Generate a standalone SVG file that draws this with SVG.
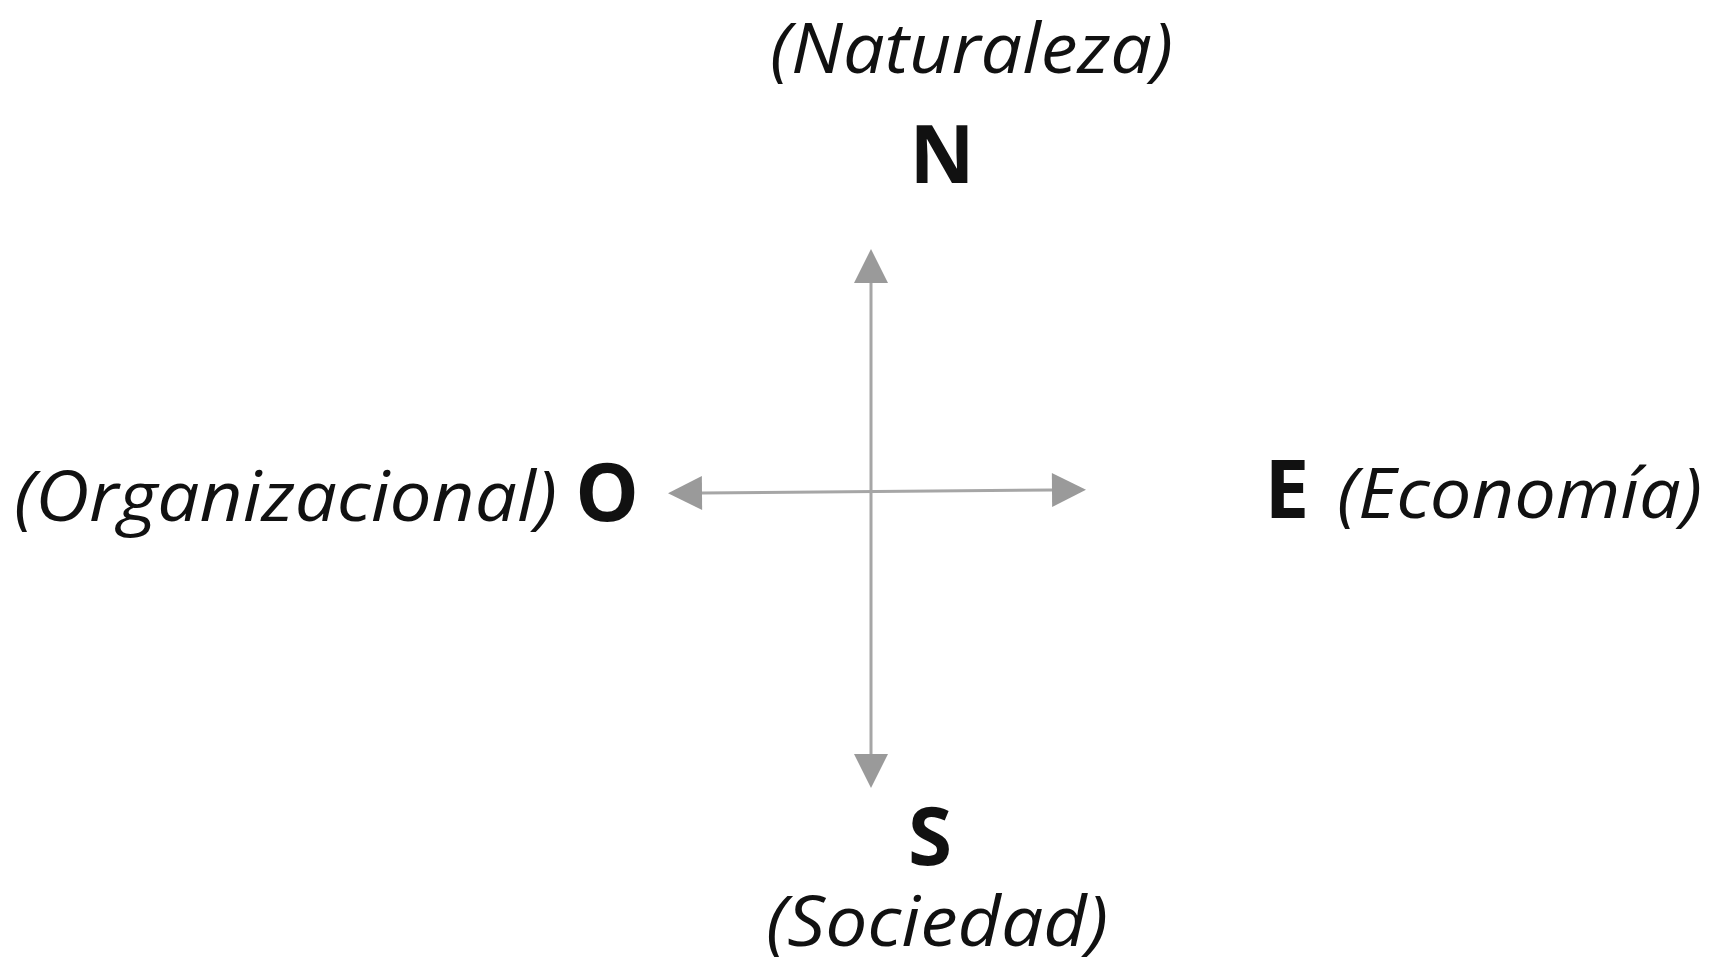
<svg xmlns="http://www.w3.org/2000/svg" width="1714" height="963" viewBox="0 0 1714 963">
<style>
.it{font-family:"Open Sans","Noto Sans","Liberation Sans",sans-serif;font-style:italic;font-size:70px;fill:#111}
.bd{font-family:"Open Sans","Noto Sans","Liberation Sans",sans-serif;font-weight:bold;font-size:80px;fill:#111;text-anchor:middle}
.ax{stroke:#a6a6a6;stroke-width:3;fill:none;marker-start:url(#ah);marker-end:url(#ah)}
</style>
<defs>
<marker id="ah" markerUnits="userSpaceOnUse" markerWidth="34" markerHeight="36" refX="0" refY="17" orient="auto-start-reverse" viewBox="0 0 34 34" overflow="visible">
<path d="M0,0 L34,17 L0,34 Z" fill="#9a9a9a"/>
</marker>
</defs>
<rect width="1714" height="963" fill="#fff"/>
<g id="connectors">
<line class="ax" x1="871" y1="754" x2="871" y2="283"/>
<line class="ax" x1="1052" y1="490" x2="702" y2="493"/>
</g>
<g id="node-N">
<text class="it" x="770" y="73" textLength="403" lengthAdjust="spacingAndGlyphs">(Naturaleza)</text>
<text class="bd" x="942" y="183">N</text>
</g>
<g id="node-S">
<text class="bd" x="930" y="865">S</text>
<text class="it" x="766" y="946" textLength="342" lengthAdjust="spacingAndGlyphs">(Sociedad)</text>
</g>
<g id="node-O">
<text class="it" x="14" y="521" textLength="543" lengthAdjust="spacingAndGlyphs">(Organizacional)</text>
<text class="bd" x="607" y="521">O</text>
</g>
<g id="node-E">
<text class="bd" x="1287" y="518">E</text>
<text class="it" x="1337" y="518" textLength="365" lengthAdjust="spacingAndGlyphs">(Economía)</text>
</g>
</svg>
